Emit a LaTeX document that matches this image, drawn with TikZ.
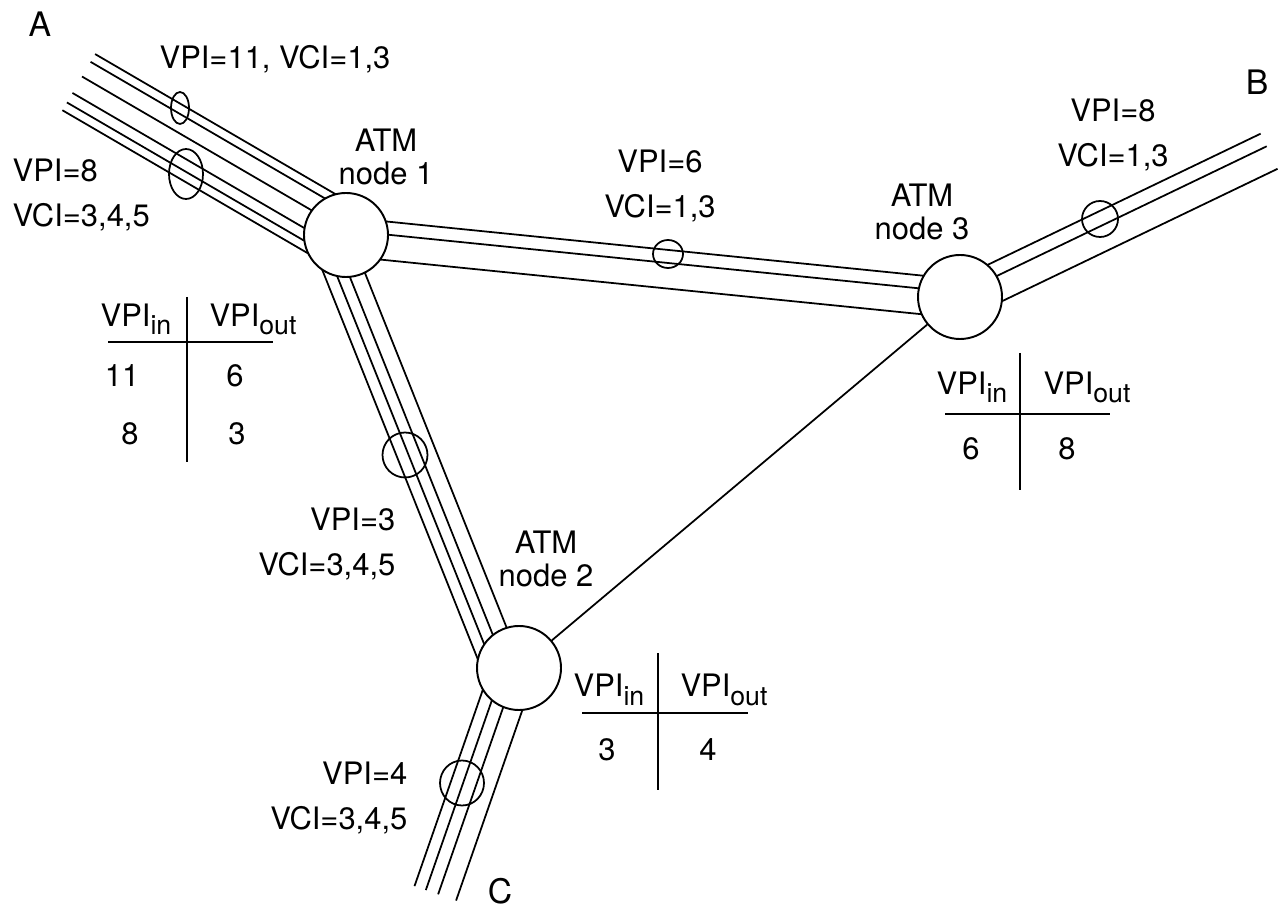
\documentclass[tikz,border=0pt]{standalone}
\usepackage{fontspec}
\setmainfont{TeX Gyre Heros}
\usetikzlibrary{calc, shapes.geometric, backgrounds}

\newcommand{\vpisub}[1]{\raisebox{-0.8mm}{\fontsize{7.6}{8}\selectfont #1}}

\begin{document}
\begin{tikzpicture}[
    x=0.1mm, y=-0.1mm,
    atm/.style={circle, draw, fill=white, minimum size=8.4mm, inner sep=0pt, line width=0.55pt},
    vcring/.style={ellipse, draw, inner sep=0pt, line width=0.5pt},
    pipe/.style={draw, line width=0.5pt},
    lbl/.style={font=\fontsize{8.8}{9.4}\selectfont, inner sep=0pt, align=center},
    endpt/.style={font=\fontsize{9.6}{11}\selectfont, inner sep=0pt, anchor=base},
    tabtxt/.style={font=\fontsize{8.8}{9.4}\selectfont, inner sep=0pt, anchor=base}
  ]
  \useasboundingbox (0,0) rectangle (1278,915);

  % ATM switches
  \node[atm] (n1) at (346,235) {};
  \node[atm] (n2) at (519,668) {};
  \node[atm] (n3) at (960,297) {};

  % free ends of the trunks
  \coordinate (endA) at (80,80);
  \coordinate (endB) at (1268,149);
  \coordinate (endC) at (440,895);

  \node[endpt] (lblA) at (40,37) {A};
  \node[endpt] (lblB) at (1257,95) {B};
  \node[endpt] (lblC) at (500,903) {C};

  % switch names
  \node[lbl] (n1name) at (386,157) {ATM\\node 1};
  \node[lbl] (n2name) at (546,559) {ATM\\node 2};
  \node[lbl] (n3name) at (922,212) {ATM\\node 3};

  % trunks, kept under the switches
  \begin{pgfonlayer}{background}
    \foreach \o in {-3.0mm,-2.1mm,-0.4mm,1.5mm,2.6mm,3.5mm}
      \path[pipe] ($(endA)!\o!-90:(n1)$) -- ($(n1)!\o!90:(endA)$);
    \foreach \o in {-1.75mm,-0.45mm,2.1mm}
      \path[pipe] ($(n1)!\o!-90:(n3)$) -- ($(n3)!\o!90:(n1)$);
    \foreach \o in {3.5mm,2.35mm,1.2mm,-0.35mm}
      \path[pipe] ($(n1)!\o!-90:(n2)$) -- ($(n2)!\o!90:(n1)$);
    \foreach \o in {2.7mm,1.5mm,0.2mm,-1.7mm}
      \path[pipe] ($(n2)!\o!-90:(endC)$) -- ($(endC)!\o!90:(n2)$);
    \foreach \o in {-1.7mm,-0.3mm,2.2mm}
      \path[pipe] ($(n3)!\o!-90:(endB)$) -- ($(endB)!\o!90:(n3)$);
    \path[pipe] (n2) -- (n3);
  \end{pgfonlayer}

  % rings round the virtual paths
  \node[vcring, minimum width=1.8mm, minimum height=3.2mm] (ringA11) at (180,108) {};
  \node[vcring, minimum width=3.4mm, minimum height=5.0mm] (ringA8) at (186,174) {};
  \node[vcring, minimum width=3.0mm, minimum height=2.8mm] (ring6) at (668,254) {};
  \node[vcring, minimum width=3.6mm, minimum height=3.6mm] (ringB8) at (1100,219) {};
  \node[vcring, minimum width=4.5mm, minimum height=4.5mm] (ring3) at (405,455) {};
  \node[vcring, minimum width=4.4mm, minimum height=4.5mm] (ring4) at (462,783) {};

  % VPI/VCI labels
  \node[lbl, anchor=base] (vpA11) at (275,69) {VPI=11, VCI=1,3};
  \node[lbl, align=left, anchor=west] (vpA8) at (12,195) {VPI=8\\[3.6pt]VCI=3,4,5};
  \node[lbl] (vp6) at (660,186) {VPI=6\\[3.6pt]VCI=1,3};
  \node[lbl] (vpB8) at (1113,135) {VPI=8\\[3.6pt]VCI=1,3};
  \node[lbl, align=right, anchor=east] (vp3) at (396,544) {VPI=3\\[3.6pt]VCI=3,4,5};
  \node[lbl, align=right, anchor=east] (vp4) at (408,798) {VPI=4\\[3.6pt]VCI=3,4,5};

  % VPI table at node 1
  \coordinate (t1) at (187,342);
  \draw[pipe] ($(t1)+(-79,0)$) -- ($(t1)+(86,0)$);
  \draw[pipe] ($(t1)+(0,-45)$) -- ($(t1)+(0,120)$);
  \node[tabtxt] (t1in) at ($(t1)+(-51,-15)$) {VPI\vpisub{in}};
  \node[tabtxt] (t1out) at ($(t1)+(66,-15)$) {VPI\vpisub{out}};
  \node[tabtxt] (t1a) at ($(t1)+(-65,45)$) {11};
  \node[tabtxt] (t1b) at ($(t1)+(48,45)$) {6};
  \node[tabtxt] (t1c) at ($(t1)+(-57,103)$) {8};
  \node[tabtxt] (t1d) at ($(t1)+(50,103)$) {3};

  % VPI table at node 2
  \coordinate (t2) at (658,713);
  \draw[pipe] ($(t2)+(-76,0)$) -- ($(t2)+(90,0)$);
  \draw[pipe] ($(t2)+(0,-60)$) -- ($(t2)+(0,77)$);
  \node[tabtxt] (t2in) at ($(t2)+(-49,-16)$) {VPI\vpisub{in}};
  \node[tabtxt] (t2out) at ($(t2)+(66,-16)$) {VPI\vpisub{out}};
  \node[tabtxt] (t2a) at ($(t2)+(-51,47)$) {3};
  \node[tabtxt] (t2b) at ($(t2)+(50,47)$) {4};

  % VPI table at node 3
  \coordinate (t3) at (1020,414);
  \draw[pipe] ($(t3)+(-75,0)$) -- ($(t3)+(90,0)$);
  \draw[pipe] ($(t3)+(0,-61)$) -- ($(t3)+(0,76)$);
  \node[tabtxt] (t3in) at ($(t3)+(-48,-19)$) {VPI\vpisub{in}};
  \node[tabtxt] (t3out) at ($(t3)+(67,-19)$) {VPI\vpisub{out}};
  \node[tabtxt] (t3a) at ($(t3)+(-49,46)$) {6};
  \node[tabtxt] (t3b) at ($(t3)+(47,46)$) {8};
\end{tikzpicture}
\end{document}
